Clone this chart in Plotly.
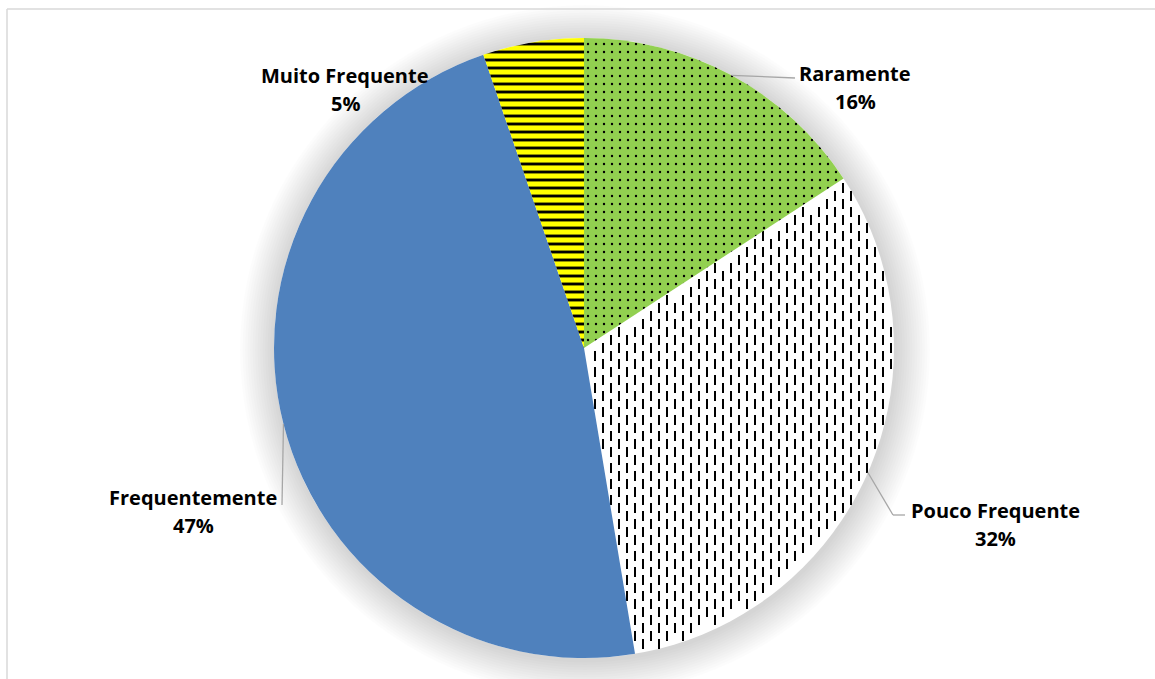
import math
import numpy as np
import plotly.graph_objects as go

# Survey answers (number of respondents)
categories = ["Raramente", "Pouco Frequente", "Frequentemente", "Muito Frequente"]
values = [3, 6, 9, 1]
colors = ["#92D050", "rgba(0,0,0,0)", "#4F81BD", "#FFFF00"]
patterns = [".", "", "", "-"]

W, H = 1155, 679
CX, CY, R = 584, 348, 310  # pie centre / radius in pixels

# label placement (pixel centre of the two text lines) and leader-line path
label_pos = {
    "Raramente": (855, 73),
    "Pouco Frequente": (995, 510),
    "Frequentemente": (193, 497),
    "Muito Frequente": (345, 75),
}
leader_path = {
    "Raramente": [(795, 78)],
    "Pouco Frequente": [(893, 515), (905, 515)],
    "Frequentemente": [(282, 505)],
    "Muito Frequente": None,
}

total = float(sum(values))
bounds = np.cumsum([0] + values) / total * 360.0

fig = go.Figure()

# dashed-vertical fill for the "Pouco Frequente" wedge
i_pf = categories.index("Pouco Frequente")
a0, a1 = bounds[i_pf], bounds[i_pf + 1]
dash_len, col_step, row_step = 7, 8, 16


def ang(x, y):
    return math.degrees(math.atan2(x - CX, -(y - CY))) % 360


def inside(x, y, margin=1.0):
    d = math.hypot(x - CX, y - CY)
    if d > R - margin:
        return False
    a = ang(x, y)
    if not (a0 < a < a1):
        return False
    # distance from the two straight edges
    for b in (a0, a1):
        br = math.radians(b)
        ux, uy = math.sin(br), -math.cos(br)
        cross = abs((x - CX) * uy - (y - CY) * ux)
        if cross < margin and d > 0:
            return False
    return True


dx, dy = [], []
for i in range(-45, 46):
    x = CX + 3 + i * col_step
    off = (row_step / 2) if i % 2 else 0
    for j in range(-25, 26):
        y = CY + off + j * row_step
        if inside(x, y - dash_len / 2) and inside(x, y + dash_len / 2):
            dx.append(x)
            dy.append(y)

fig.add_trace(go.Scatter(
    x=dx, y=dy, mode="markers", hoverinfo="skip", showlegend=False,
    marker=dict(symbol="line-ns", size=dash_len,
                line=dict(width=2, color="#000000")),
))

fig.add_trace(go.Pie(
    labels=categories, values=values, sort=False, direction="clockwise",
    rotation=0, textinfo="none", hoverinfo="label+percent", showlegend=False,
    marker=dict(
        colors=colors, line=dict(width=0),
        pattern=dict(shape=patterns, fgcolor="#000000", bgcolor=colors,
                     size=[8, 8, 8, 8], solidity=[0.07, 0.3, 0.3, 0.36]),
    ),
    domain=dict(x=[(CX - R) / W, (CX + R) / W],
                y=[1 - (CY + R) / H, 1 - (CY - R) / H]),
))

shapes = []
# soft shadow around the pie
for k in range(14, 0, -1):
    rr = R + 2.5 * k
    shapes.append(dict(type="circle", xref="x", yref="y", layer="below",
                       x0=CX + 1 - rr, x1=CX + 1 + rr, y0=CY + 2 - rr, y1=CY + 2 + rr,
                       fillcolor="rgba(0,0,0,0.010)", line=dict(width=0)))
shapes.append(dict(type="circle", xref="x", yref="y", layer="below",
                   x0=CX - R, x1=CX + R, y0=CY - R, y1=CY + R,
                   fillcolor="#FFFFFF", line=dict(width=0)))

# chart frame
shapes.append(dict(type="line", xref="x", yref="y", x0=7, x1=W, y0=9, y1=9,
                   line=dict(color="#D9D9D9", width=1.5)))
shapes.append(dict(type="line", xref="x", yref="y", x0=7, x1=7, y0=9, y1=H,
                   line=dict(color="#D9D9D9", width=1.5)))

annotations = []
for i, name in enumerate(categories):
    mid = math.radians((bounds[i] + bounds[i + 1]) / 2)
    sx, sy = CX + R * math.sin(mid), CY - R * math.cos(mid)
    path = leader_path[name]
    if path:
        pts = [(sx, sy)] + path
        for (p, q) in zip(pts[:-1], pts[1:]):
            shapes.append(dict(type="line", xref="x", yref="y",
                               x0=p[0], y0=p[1], x1=q[0], y1=q[1],
                               line=dict(color="#A6A6A6", width=1.3)))
    lx, ly = label_pos[name]
    pct = f"{round(values[i] / total * 100)}%"
    for text, yy in ((name, ly), (pct, ly + 28)):
        annotations.append(dict(
            x=lx, y=yy, xref="x", yref="y", text=f"<b>{text}</b>",
            showarrow=False, xanchor="center", yanchor="middle",
            font=dict(family="Open Sans", size=20, color="#000000"),
        ))

fig.update_layout(
    width=W, height=H, margin=dict(l=0, r=0, t=0, b=0),
    paper_bgcolor="#FFFFFF", plot_bgcolor="#FFFFFF",
    xaxis=dict(range=[0, W], visible=False, fixedrange=True, domain=[0, 1]),
    yaxis=dict(range=[H, 0], visible=False, fixedrange=True, domain=[0, 1]),
    shapes=shapes, annotations=annotations,
)

fig.write_html("out.html")
